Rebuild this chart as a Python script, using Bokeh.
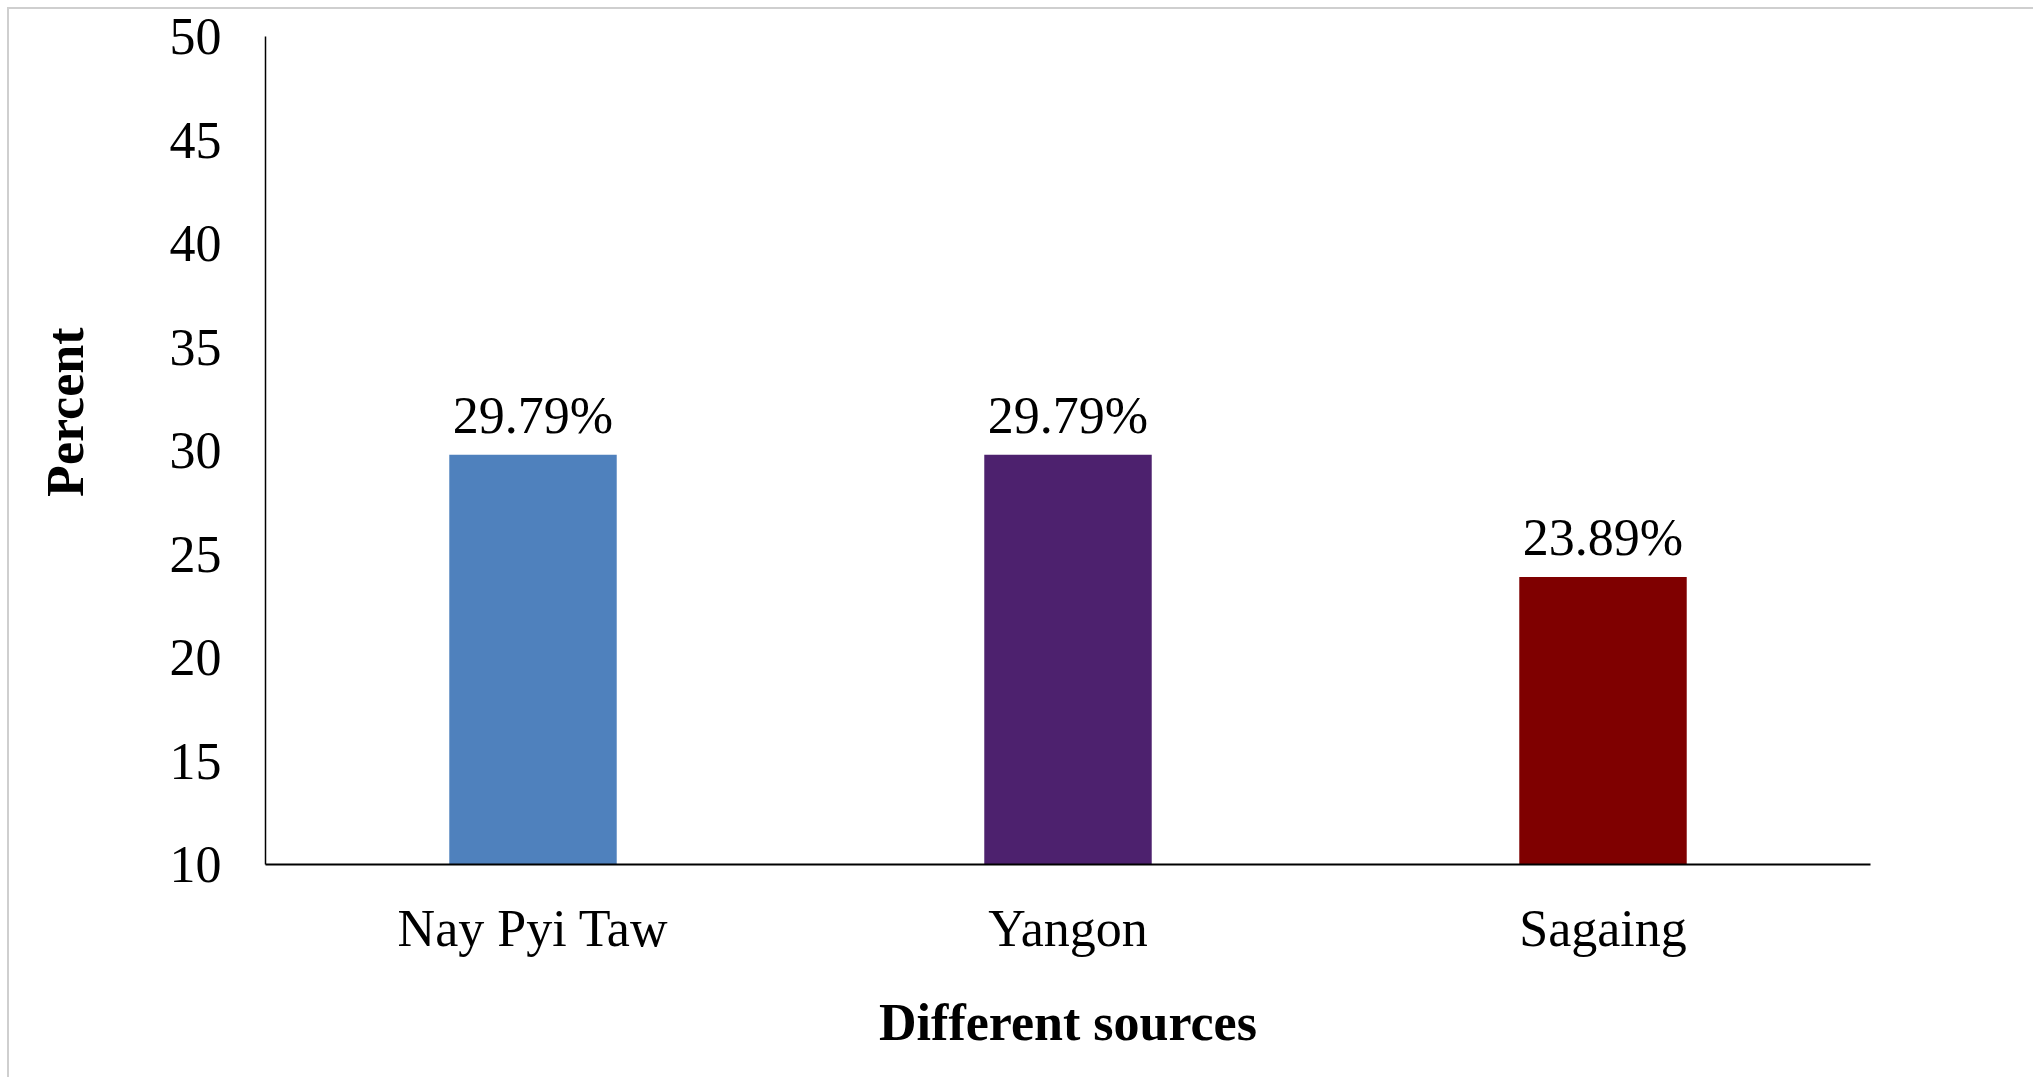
import math
from bokeh.plotting import figure
from bokeh.models import ColumnDataSource, FixedTicker, Title, LinearAxis
from bokeh.core.properties import value
from bokeh.embed import file_html
from bokeh.resources import INLINE

# ---- data ----
categories = ["Nay Pyi Taw", "Yangon", "Sagaing"]
percents = [29.79, 29.79, 23.89]
labels = ["29.79%", "29.79%", "23.89%"]
colors = ["#4F81BD", "#4D216E", "#7F0000"]
y_ticks = [10, 15, 20, 25, 30, 35, 40, 45, 50]
x_title = "Different sources"
y_title = "Percent"

FONT = "Liberation Serif"
FS = "52px"
OFF = 9  # page offset of the light frame line + its width

src = ColumnDataSource(dict(cat=categories, val=percents, lab=labels, col=colors))

p = figure(x_range=categories, y_range=(10, 50), width=2035 - OFF, height=1079 - OFF,
           output_backend="svg", toolbar_location=None,
           min_border_left=265 - OFF, min_border_right=165,
           min_border_top=36 - OFF, min_border_bottom=215)
p.outline_line_color = None
p.grid.grid_line_color = None
p.background_fill_color = "white"
p.border_fill_color = "white"
p.styles = {"margin-left": "7px", "margin-top": "7px",
            "border-left": "2px solid #cfcfcf", "border-top": "2px solid #cfcfcf"}

p.vbar(x="cat", top="val", bottom=10, width=0.313, color="col", line_color=None, source=src)
p.text(x="cat", y="val", text="lab", source=src, text_align="center", text_baseline="middle",
       y_offset=-39, text_font=value(FONT), text_font_size=FS, text_color="black")

# y axis
ya = p.yaxis[0]
ya.ticker = FixedTicker(ticks=y_ticks)
ya.minor_tick_line_color = None
ya.major_tick_line_color = None
ya.major_tick_out = 0
ya.major_tick_in = 0
ya.major_label_standoff = 44
ya.major_label_text_font = FONT
ya.major_label_text_font_size = FS
ya.major_label_text_color = "black"
ya.axis_line_color = "black"
ya.axis_line_width = 1.5

# x axis
xa = p.xaxis[0]
xa.major_tick_line_color = None
xa.major_tick_out = 0
xa.major_tick_in = 0
xa.major_label_standoff = 35
xa.major_label_text_font = FONT
xa.major_label_text_font_size = FS
xa.major_label_text_color = "black"
xa.axis_line_color = "black"
xa.axis_line_width = 2
xa.axis_label = x_title
xa.axis_label_text_font = FONT
xa.axis_label_text_font_size = FS
xa.axis_label_text_font_style = "bold"
xa.axis_label_text_color = "black"
xa.axis_label_standoff = 34

# invisible spacer axis pushing the y title outward
spacer = LinearAxis(ticker=FixedTicker(ticks=[30]), axis_line_color=None,
                    major_tick_line_color=None, minor_tick_line_color=None,
                    major_tick_out=72, major_tick_in=0, minor_tick_out=0,
                    major_label_standoff=0, major_label_text_color=None,
                    major_label_text_font_size="1px")
p.add_layout(spacer, "left")

# rotated y title in the left panel
p.add_layout(Title(text=y_title, align="right", offset=291, vertical_align="middle",
                   standoff=0,
                   text_font=FONT, text_font_size=FS, text_font_style="bold",
                   text_color="black"), "left")

open("out.html", "w").write(file_html(p, INLINE))
